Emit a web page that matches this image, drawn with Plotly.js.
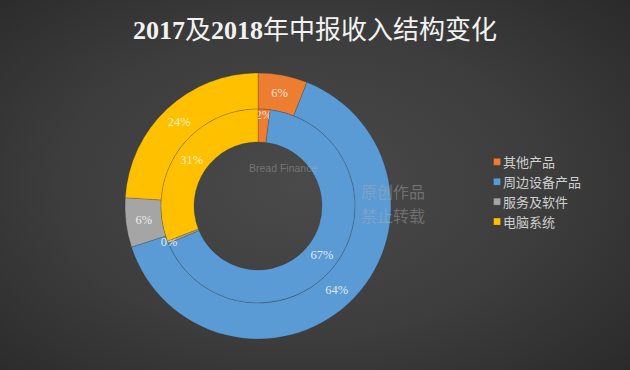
<!DOCTYPE html>
<html>
<head>
<meta charset="utf-8">
<script src="https://cdn.plot.ly/plotly-3.0.1.min.js"></script>
<style>
  html, body { margin: 0; padding: 0; }
  body {
    width: 630px; height: 370px; overflow: hidden;
    background: radial-gradient(ellipse 70% 75% at 48% 50%, #4a4a4a 0%, #3d3d3d 55%, #2a2a2a 100%);
  }
  #chart { width: 630px; height: 370px; }
</style>
</head>
<body>
<div id="chart"></div>
<script>
// Categories and series
const categories = ['其他产品', '周边设备产品', '服务及软件', '电脑系统'];
const values2017 = [2, 67, 0.4, 31];   // inner ring (服务及软件 shown as 0%)
const values2018 = [6, 64, 6, 24];     // outer ring
const colors = ['#ED7D31', '#5B9BD5', '#A5A5A5', '#FFC000'];
const titleText = '<b>2017</b>及<b>2018</b>年中报收入结构变化';
const watermarkLines = ['原创作品', '禁止转载'];
const watermarkBrand = 'Bread Finance';

const labelFont = {family: 'Liberation Serif, Noto Sans CJK SC, serif', size: 12.5, color: 'rgba(255,255,255,0.82)'};
const sliceLine = {color: 'rgba(40,40,40,0.3)', width: 0.7};

const outer = {
  type: 'pie', labels: categories, values: values2018,
  sort: false, direction: 'clockwise', rotation: 0,
  hole: 0.729,
  domain: {x: [0.1984, 0.6206], y: [0.0838, 0.8027]},
  marker: {colors: colors, line: sliceLine},
  textinfo: 'none', texttemplate: '%{value:.0f}%', textposition: 'inside',
  insidetextorientation: 'horizontal',
  insidetextfont: labelFont,
  showlegend: true, hoverinfo: 'label+value'
};
const inner = {
  type: 'pie', labels: categories, values: values2017,
  sort: false, direction: 'clockwise', rotation: 0,
  hole: 0.66,
  domain: {x: [0.2556, 0.5635], y: [0.1811, 0.7054]},
  marker: {colors: colors, line: sliceLine},
  textinfo: 'none', texttemplate: '%{value:.0f}%', textposition: 'inside',
  insidetextorientation: 'horizontal',
  insidetextfont: labelFont,
  showlegend: true, hoverinfo: 'label+value'
};

const wmFont = {family: 'Noto Sans CJK SC, sans-serif', size: 16, color: 'rgba(175,175,175,0.42)'};

const layout = {
  width: 630, height: 370,
  margin: {l: 0, r: 0, t: 0, b: 0},
  paper_bgcolor: 'rgba(0,0,0,0)',
  plot_bgcolor: 'rgba(0,0,0,0)',
  title: {
    text: titleText,
    x: 0.5, xanchor: 'center', y: 0.92, yanchor: 'middle',
    font: {family: 'Liberation Serif, Noto Sans CJK SC, serif', size: 26, color: '#f2f2f2'}
  },
  uniformtext: {mode: 'show', minsize: 12.5},
  legend: {
    x: 0.735, xanchor: 'left', y: 0.603, yanchor: 'top',
    font: {family: 'Noto Sans CJK SC, sans-serif', size: 13, color: '#cfcfcf'},
    bgcolor: 'rgba(0,0,0,0)', itemwidth: 30, tracegroupgap: 0
  },
  annotations: [
    {xref: 'paper', yref: 'paper', x: 0.572, y: 0.484, xanchor: 'left', yanchor: 'middle',
     borderpad: 0, text: watermarkLines[0], showarrow: false, font: wmFont},
    {xref: 'paper', yref: 'paper', x: 0.572, y: 0.419, xanchor: 'left', yanchor: 'middle',
     borderpad: 0, text: watermarkLines[1], showarrow: false, font: wmFont},
    {xref: 'paper', yref: 'paper', x: 0.392, y: 0.545, xanchor: 'left', yanchor: 'middle',
     text: watermarkBrand, showarrow: false,
     font: {family: 'Liberation Sans, sans-serif', size: 10.5, color: 'rgba(175,175,175,0.45)'}}
  ]
};

Plotly.newPlot('chart', [outer, inner], layout, {displayModeBar: false, staticPlot: true}).then(function () {
  // smaller legend swatches, placed just before the legend text
  document.querySelectorAll('.legendpie').forEach(function (p) {
    p.setAttribute('d', 'M3.5,3.5H-3.5V-3.5H3.5Z');
    p.setAttribute('transform', 'translate(34,0)');
  });
});
</script>
</body>
</html>
